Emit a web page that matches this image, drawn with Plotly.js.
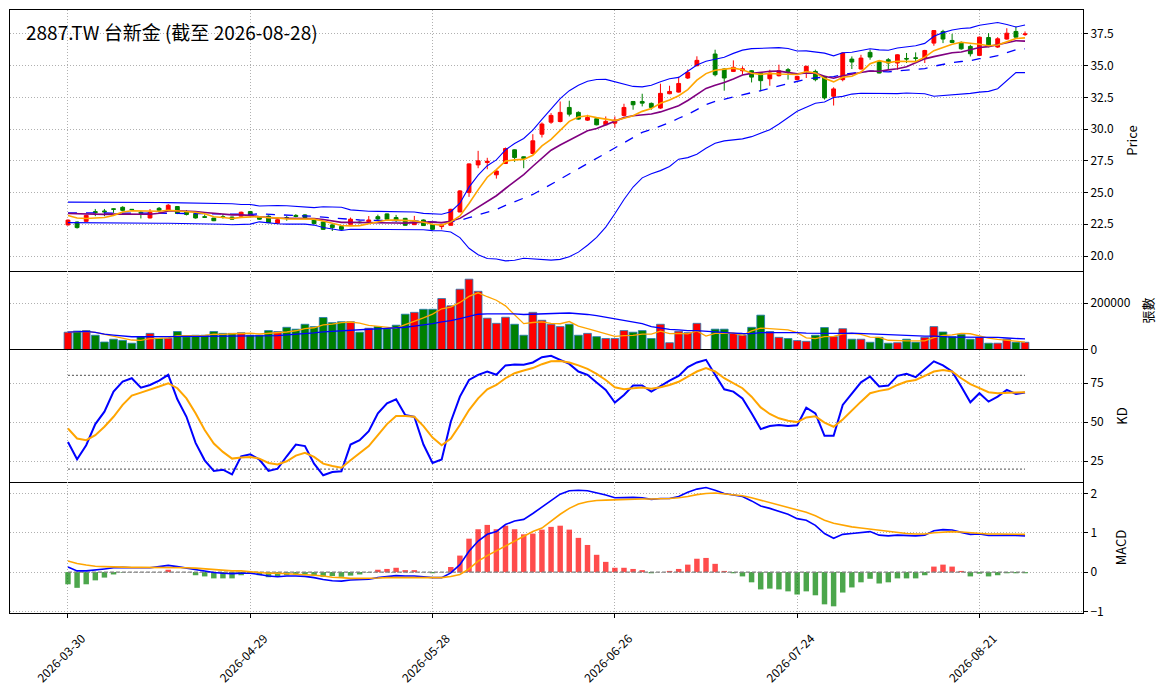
<!DOCTYPE html>
<html>
<head>
<meta charset="utf-8">
<script src="https://cdn.plot.ly/plotly-3.0.1.min.js"></script>
<style>
html,body{margin:0;padding:0;background:#fff;}
#chart{width:1172px;height:698px;}
</style>
</head>
<body>
<div id="chart"></div>
<script>
// ---------- data ----------
const startDate = '2026-03-30';
const endDate = '2026-08-28';
const holidays = ['2026-04-03','2026-04-06','2026-05-01','2026-06-19'];
const tickDates = ['2026-03-30','2026-04-29','2026-05-28','2026-06-26','2026-07-24','2026-08-21'];
const chartTitle = '2887.TW 台新金 (截至 2026-08-28)';

const openP = [22.45,22.68,22.73,23.50,23.55,23.72,23.84,23.68,23.45,23.00,
  23.76,23.60,23.90,23.50,23.35,23.10,22.99,23.10,23.07,23.14,
  23.50,23.07,23.14,22.58,23.02,23.20,23.24,22.90,22.68,22.45,
  22.32,22.50,22.68,22.70,23.10,23.32,23.03,22.97,22.47,22.84,
  22.47,22.32,22.42,23.47,25.00,27.18,27.37,26.40,27.29,28.37,
  27.82,28.08,29.60,30.55,30.60,31.71,31.32,30.71,30.82,30.34,
  30.47,31.08,32.18,32.18,32.03,31.66,32.79,32.92,34.03,35.00,
  null,35.92,34.74,34.55,34.60,34.60,34.42,33.97,34.21,34.69,
  33.90,34.55,34.55,34.16,32.59,33.90,35.52,34.74,36.05,35.34,
  35.47,35.21,35.57,35.62,35.60,36.78,37.70,36.99,36.83,36.52,
  35.81,37.22,36.47,37.10,37.70,37.45];
const highP = [22.88,22.72,23.25,23.71,23.71,23.76,23.92,23.70,23.56,23.70,
  23.86,24.10,23.92,23.62,23.40,23.28,23.00,23.28,23.10,23.50,
  23.55,23.10,23.20,22.90,23.15,23.30,23.30,22.95,22.72,22.50,
  22.35,23.03,22.72,23.15,23.26,23.35,23.24,23.00,23.16,22.88,
  22.50,22.52,23.72,25.20,27.30,28.29,27.74,26.75,28.55,28.40,
  27.85,29.60,30.53,31.26,32.18,32.24,31.40,31.13,30.86,31.00,
  31.00,32.00,32.22,32.79,32.10,33.58,33.42,34.13,34.71,35.74,
  null,36.26,34.80,35.42,34.95,34.65,34.47,34.68,35.08,34.82,
  34.20,35.00,34.69,34.20,33.30,36.05,35.73,35.86,36.26,35.40,
  35.60,35.90,36.00,36.05,36.25,37.80,37.83,37.51,36.91,36.65,
  37.30,37.57,37.25,37.95,38.09,37.70];
const lowP = [22.40,22.16,22.70,23.14,23.14,23.40,23.52,23.62,22.96,22.96,
  23.52,23.52,23.30,23.20,22.95,23.00,22.75,22.95,22.85,23.05,
  23.10,22.85,22.60,22.55,22.78,23.05,23.00,22.50,22.05,21.97,
  22.05,22.48,22.58,22.62,22.84,22.88,22.68,22.40,22.45,22.38,
  22.08,22.10,22.40,23.45,24.66,26.92,26.84,26.10,27.25,27.42,
  26.92,28.00,29.34,30.42,30.53,31.00,30.75,30.65,30.30,30.30,
  30.13,31.00,31.53,31.79,31.53,31.60,32.75,32.88,33.95,34.95,
  null,34.16,33.03,34.50,34.29,33.68,32.97,33.42,34.15,33.90,
  33.85,34.03,33.77,32.33,31.86,33.77,34.74,34.70,35.47,34.40,
  34.69,34.69,35.21,35.21,35.21,36.57,36.78,36.78,36.26,35.73,
  35.75,36.45,36.40,37.05,37.20,37.35];
const closeP = [22.83,22.24,23.20,23.42,23.48,23.68,23.60,23.66,23.35,23.45,
  23.60,24.00,23.35,23.27,23.00,23.05,22.78,23.05,22.90,23.45,
  23.20,22.90,22.63,22.86,22.98,23.12,23.03,22.55,22.10,22.24,
  22.10,22.90,22.63,22.84,22.92,22.90,22.84,22.42,22.76,22.40,
  22.10,22.50,23.68,25.13,27.26,27.50,27.47,26.70,28.47,27.76,
  27.68,29.08,30.40,31.08,31.32,31.18,30.79,30.92,30.34,30.61,
  30.71,31.71,31.92,32.05,31.71,32.82,32.97,33.60,34.47,35.42,
  null,34.29,34.03,34.87,34.76,34.10,33.82,34.42,34.60,34.55,
  34.16,34.95,33.90,32.46,33.17,36.00,35.29,35.60,35.68,34.42,
  35.21,35.86,35.53,35.58,36.20,37.77,37.10,36.83,36.33,35.94,
  37.25,36.52,37.12,37.56,37.25,37.50];
// values of the averages / bands on the first bars (their windows reach back before the chart)
const ma5Start = [23.20,23.00,22.96,22.98];
const ma10Start = [23.35,23.32,23.30,23.28,23.28,23.30,23.30,23.30,23.30];
const ma20Start = [23.40,23.40,23.41,23.41,23.42,23.42,23.42,23.41,23.40,23.39,
  23.38,23.37,23.36,23.35,23.33,23.32,23.30,23.28,23.26];
const bbUpStart = [24.25,24.25,24.26,24.27,24.27,24.27,24.26,24.25,24.24,24.23,
  24.22,24.21,24.20,24.19,24.18,24.17,24.16,24.15,24.12];
const bbDnStart = [22.63,22.62,22.62,22.61,22.60,22.60,22.59,22.59,22.58,22.58,
  22.58,22.58,22.57,22.57,22.56,22.55,22.53,22.50,22.46];
// volume in thousands of shares (張)
const volumeK = [76,81,83,63,34,46,41,29,57,71,
  50,50,79,56,63,63,79,71,71,74,
  63,63,83,79,97,89,110,100,139,117,
  121,121,76,93,100,91,106,153,161,174,
  174,220,189,260,303,251,136,114,140,110,
  63,161,127,110,100,110,63,71,57,49,
  49,83,76,83,49,110,31,80,74,114,
  0,89,89,71,63,97,149,79,54,49,
  40,37,63,96,57,91,46,46,33,54,
  29,31,46,33,54,100,77,57,67,46,
  54,29,29,46,33,33];
const kLine = [37.4,26.3,35.3,48.8,56.8,69.6,76.1,78.2,72.2,73.9,
  76.7,80.4,64.7,53.5,36.8,25.6,18.8,19.6,16.6,28.2,
  29.5,26.1,18.8,20.3,28.2,35.7,34.7,23.5,16.0,18.1,
  18.6,35.7,38.5,44.3,55.7,62.1,64.7,54.6,53.5,35.7,
  23.9,26.1,50.3,66.4,77.1,80.4,82.5,80.4,86.4,87.0,
  86.8,88.3,91.7,92.6,90.0,87.4,82.5,80.4,75.4,70.7,
  62.6,67.5,73.5,73.5,69.6,73.3,76.7,79.7,85.3,88.3,
  90.0,80.4,71.1,69.6,65.3,55.7,45.6,47.6,48.2,47.6,
  48.0,59.3,55.7,41.3,41.3,61.1,68.6,75.6,79.3,72.9,
  73.5,79.7,81.0,78.9,84.0,89.0,86.4,82.5,72.9,62.8,
  68.6,63.2,66.4,70.7,68.1,69.0];
const dLine = [46.0,39.6,38.5,41.7,47.1,53.5,61.1,67.1,69.0,70.7,
  72.9,75.0,71.8,65.3,55.7,45.0,36.4,31.0,26.7,27.4,
  27.8,26.7,23.9,22.9,25.0,28.6,30.4,27.8,23.5,22.0,
  20.9,25.6,29.9,34.7,41.7,48.8,54.0,54.0,53.5,47.5,
  40.2,35.3,39.6,48.2,57.8,65.3,71.1,73.9,78.2,81.4,
  83.2,84.7,87.2,89.0,89.3,88.3,86.4,84.2,81.0,77.1,
  72.4,71.1,71.8,72.2,71.4,72.4,73.9,75.9,79.3,82.5,
  84.7,82.5,78.2,75.0,71.8,66.4,59.5,55.3,52.5,51.0,
  50.1,53.1,53.8,49.8,47.1,51.8,57.8,63.2,68.6,70.1,
  71.1,73.9,76.1,77.1,79.7,82.5,83.5,82.5,78.2,74.4,
  71.8,69.2,68.6,69.0,69.0,69.2];
const difLine = [0.13,0.03,0.03,0.05,0.08,0.11,0.12,0.11,0.11,0.11,
  0.14,0.17,0.14,0.10,0.06,0.03,-0.01,-0.03,-0.04,-0.03,
  -0.03,-0.06,-0.10,-0.12,-0.10,-0.10,-0.11,-0.14,-0.19,-0.22,
  -0.23,-0.20,-0.19,-0.18,-0.14,-0.11,-0.09,-0.10,-0.10,-0.12,
  -0.14,-0.14,-0.02,0.19,0.53,0.79,0.96,1.03,1.21,1.30,
  1.34,1.49,1.66,1.83,1.98,2.07,2.08,2.07,2.02,1.96,
  1.89,1.90,1.90,1.89,1.85,1.87,1.87,1.92,2.03,2.11,
  2.15,2.08,2.00,1.96,1.92,1.81,1.68,1.62,1.55,1.47,
  1.36,1.32,1.19,0.98,0.86,0.96,0.98,1.00,1.03,0.94,
  0.92,0.94,0.93,0.92,0.94,1.05,1.08,1.07,1.01,0.96,
  0.97,0.93,0.93,0.94,0.93,0.92];
const deaLine = [0.28,0.22,0.18,0.15,0.14,0.13,0.12,0.12,0.12,0.12,
  0.12,0.12,0.12,0.11,0.10,0.08,0.07,0.05,0.03,0.03,
  0.01,-0.01,-0.03,-0.03,-0.04,-0.05,-0.06,-0.08,-0.10,-0.13,
  -0.14,-0.16,-0.16,-0.16,-0.15,-0.14,-0.14,-0.13,-0.13,-0.13,
  -0.14,-0.14,-0.11,-0.06,0.08,0.28,0.42,0.54,0.67,0.79,
  0.90,1.03,1.12,1.30,1.47,1.62,1.73,1.79,1.82,1.83,
  1.84,1.85,1.86,1.86,1.86,1.86,1.87,1.89,1.92,1.97,
  2.00,2.01,1.99,1.97,1.94,1.89,1.83,1.77,1.71,1.65,
  1.59,1.52,1.43,1.32,1.24,1.19,1.15,1.12,1.09,1.06,
  1.03,1.01,0.98,0.97,0.97,1.00,1.02,1.03,1.02,1.00,
  0.98,0.97,0.97,0.97,0.96,0.96];
const macdHist = [-0.31,-0.40,-0.31,-0.21,-0.14,-0.06,-0.01,0.00,0.00,0.00,
  0.00,0.06,0.00,0.00,-0.08,-0.11,-0.16,-0.16,-0.16,-0.08,
  -0.03,-0.08,-0.13,-0.12,-0.08,-0.06,-0.06,-0.09,-0.12,-0.10,
  -0.12,-0.09,-0.06,-0.01,0.06,0.08,0.11,0.05,0.05,0.00,
  -0.03,0.00,0.13,0.42,0.85,1.09,1.20,1.09,1.18,1.09,
  0.96,0.98,1.08,1.15,1.18,1.08,0.87,0.69,0.44,0.26,
  0.11,0.11,0.08,0.05,-0.03,0.00,0.03,0.08,0.19,0.34,
  0.36,0.21,0.03,-0.03,-0.11,-0.26,-0.44,-0.42,-0.44,-0.49,
  -0.57,-0.49,-0.59,-0.82,-0.87,-0.52,-0.39,-0.26,-0.17,-0.29,
  -0.26,-0.16,-0.16,-0.16,-0.08,0.14,0.19,0.14,0.03,-0.11,
  -0.04,-0.11,-0.08,-0.03,-0.03,-0.03];

// ---------- trading-day categories ----------
function tradingDays(start, end, skip){
  const out = [];
  const d = new Date(start + 'T00:00:00Z');
  const e = new Date(end + 'T00:00:00Z');
  while (d <= e){
    const s = d.toISOString().slice(0,10);
    const wd = d.getUTCDay();
    if (wd !== 0 && wd !== 6 && skip.indexOf(s) < 0) out.push(s);
    d.setUTCDate(d.getUTCDate() + 1);
  }
  return out;
}
const dates = tradingDays(startDate, endDate, holidays);

// ---------- derived indicators ----------
const closeFilled = [];
closeP.forEach((c,i)=>{ closeFilled.push(c === null ? closeFilled[i-1] : c); });
function sma(arr, n, startVals){
  return arr.map((_, i)=>{
    if (startVals && i < n-1) return startVals[i];
    const s = arr.slice(Math.max(0, i-n+1), i+1);
    return s.reduce((a,b)=>a+b, 0) / s.length;
  });
}
function rollStd(arr, n){
  return arr.map((_, i)=>{
    const s = arr.slice(Math.max(0, i-n+1), i+1);
    if (s.length < 2) return 0;
    const m = s.reduce((a,b)=>a+b,0)/s.length;
    const v = s.reduce((a,b)=>a+(b-m)*(b-m),0)/(s.length-1);
    return Math.sqrt(v);
  });
}
const ma5 = sma(closeFilled, 5, ma5Start);
const ma10 = sma(closeFilled, 10, ma10Start);
const ma20 = sma(closeFilled, 20, ma20Start);
const sd20 = rollStd(closeFilled, 20);
const bbUp = ma20.map((m,i)=> i < 19 ? bbUpStart[i] : m + 2*sd20[i]);
const bbDn = ma20.map((m,i)=> i < 19 ? bbDnStart[i] : m - 2*sd20[i]);
const volume = volumeK.map(v=>v*1000);
const volMa5 = sma(volume, 5);
const volMa20 = sma(volume, 20);
const volColors = openP.map((o,i)=> (o === null || closeP[i] >= o) ? '#ff0000' : '#008000');
const histColors = macdHist.map(h=> h >= 0 ? 'rgba(255,0,0,0.7)' : 'rgba(0,128,0,0.7)');
const refEnds = [dates[0], dates[dates.length-1]];

// ---------- traces ----------
const traces = [
  {type:'candlestick', x:dates, open:openP, high:highP, low:lowP, close:closeP,
   xaxis:'x', yaxis:'y', whiskerwidth:0,
   increasing:{line:{color:'#ff0000', width:1}, fillcolor:'#ff0000'},
   decreasing:{line:{color:'#008000', width:1}, fillcolor:'#008000'},
   hoverinfo:'skip'},
  {type:'scatter', mode:'lines', x:dates, y:bbUp, xaxis:'x', yaxis:'y', line:{color:'#0000ff', width:1.1}},
  {type:'scatter', mode:'lines', x:dates, y:bbDn, xaxis:'x', yaxis:'y', line:{color:'#0000ff', width:1.1}},
  {type:'scatter', mode:'lines', x:dates, y:ma20, xaxis:'x', yaxis:'y', line:{color:'#0000ff', width:1.3, dash:'dash'}},
  {type:'scatter', mode:'lines', x:dates, y:ma10, xaxis:'x', yaxis:'y', line:{color:'#800080', width:1.6}},
  {type:'scatter', mode:'lines', x:dates, y:ma5, xaxis:'x', yaxis:'y', line:{color:'#ffa500', width:1.6}},

  {type:'bar', x:dates, y:volume, xaxis:'x2', yaxis:'y2', width:0.85,
   marker:{color:volColors, line:{color:'#1f77b4', width:0.8}}},
  {type:'scatter', mode:'lines', x:dates, y:volMa5, xaxis:'x2', yaxis:'y2', line:{color:'#ffa500', width:1.3}},
  {type:'scatter', mode:'lines', x:dates, y:volMa20, xaxis:'x2', yaxis:'y2', line:{color:'#0000ff', width:1.3}},

  {type:'scatter', mode:'lines', x:refEnds, y:[80,80], xaxis:'x3', yaxis:'y3', line:{color:'#707070', width:1.2, dash:'2px,2px'}},
  {type:'scatter', mode:'lines', x:refEnds, y:[20,20], xaxis:'x3', yaxis:'y3', line:{color:'#707070', width:1.2, dash:'2px,2px'}},
  {type:'scatter', mode:'lines', x:dates, y:kLine, xaxis:'x3', yaxis:'y3', line:{color:'#0000ff', width:2}},
  {type:'scatter', mode:'lines', x:dates, y:dLine, xaxis:'x3', yaxis:'y3', line:{color:'#ffa500', width:2}},

  {type:'scatter', mode:'lines', x:refEnds, y:[0,0], xaxis:'x4', yaxis:'y4', line:{color:'#808080', width:1.2, dash:'4px,2px'}},
  {type:'bar', x:dates, y:macdHist, xaxis:'x4', yaxis:'y4', width:0.6, marker:{color:histColors}},
  {type:'scatter', mode:'lines', x:dates, y:difLine, xaxis:'x4', yaxis:'y4', line:{color:'#0000ff', width:1.6}},
  {type:'scatter', mode:'lines', x:dates, y:deaLine, xaxis:'x4', yaxis:'y4', line:{color:'#ffa500', width:1.6}}
];

// ---------- layout ----------
const FONT = '"Noto Sans CJK TC", "Noto Sans", "DejaVu Sans", sans-serif';
const GRID = '#b0b0b0';
const GRIDDASH = '1px,2px';
function xAxis(anchor, labels, showLine, mirror){
  return {type:'category', anchor:anchor, range:[-6.36, 111.36],
    categoryorder:'array', categoryarray:dates,
    tickmode:'array', tickvals:tickDates, ticktext:tickDates,
    showticklabels:labels, tickangle:-45, ticks:labels?'outside':'', ticklen:4, tickcolor:'#000',
    ticklabelshift:14, ticklabelstandoff:9,
    showgrid:true, gridcolor:GRID, griddash:GRIDDASH, gridwidth:1,
    showline:showLine, linecolor:'#000', linewidth:1, mirror:mirror, zeroline:false,
    rangeslider:{visible:false}, tickfont:{size:12, color:'#000'}, fixedrange:true};
}
function yAxis(anchor, domain, range, tickvals, fmt, title){
  return {anchor:anchor, domain:domain, range:range, side:'right',
    tickmode:'array', tickvals:tickvals, tickformat:fmt,
    ticks:'outside', ticklen:4, tickcolor:'#000',
    showgrid:true, gridcolor:GRID, griddash:GRIDDASH, gridwidth:1,
    showline:true, linecolor:'#000', linewidth:1, mirror:true, zeroline:false,
    tickfont:{size:12, color:'#000'}, title:{text:title, font:{size:13, color:'#000'}, standoff:14},
    fixedrange:true};
}
const layout = {
  width:1172, height:698,
  margin:{l:10, r:89, t:10, b:85},
  paper_bgcolor:'#ffffff', plot_bgcolor:'#ffffff',
  font:{family:FONT, size:12, color:'#000'},
  showlegend:false, hovermode:false, boxgap:0.4,
  xaxis: xAxis('y', false, true, true),
  xaxis2: xAxis('y2', false, false, false),
  xaxis3: xAxis('y3', false, true, true),
  xaxis4: xAxis('y4', true, true, false),
  yaxis: yAxis('x', [0.5672, 1], [18.82, 39.39], [20,22.5,25,27.5,30,32.5,35,37.5], '.1f', 'Price'),
  yaxis2: yAxis('x2', [0.4362, 0.5672], [0, 338000], [0,200000], 'd', '張數'),
  yaxis3: yAxis('x3', [0.2172, 0.4362], [11.7, 96.3], [25,50,75], 'd', 'KD'),
  yaxis4: yAxis('x4', [0, 0.2172], [-1.04, 2.29], [-1,0,1,2], 'd', 'MACD'),
  annotations:[{text:chartTitle, xref:'paper', yref:'paper', x:0.0135, y:0.965,
    xanchor:'left', yanchor:'middle', showarrow:false, font:{size:19, color:'#000', family:FONT}}]
};

Plotly.newPlot('chart', traces, layout, {displayModeBar:false, staticPlot:true});
</script>
</body>
</html>
